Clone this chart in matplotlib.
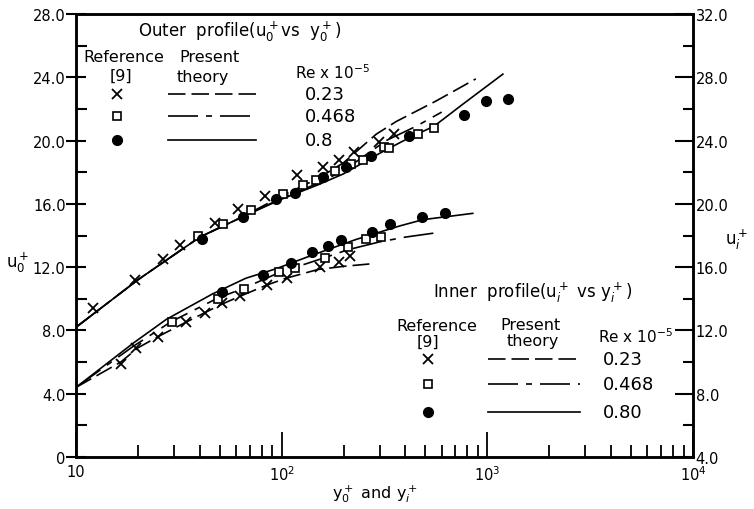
import numpy as np
import matplotlib
matplotlib.use("Agg")
import matplotlib.pyplot as plt
from matplotlib.lines import Line2D
from matplotlib.ticker import FixedLocator, NullFormatter

# ---------------- data ----------------
# Outer profile (left axis, u0+ vs y0+)
outer_x_cross = [12.05, 19.3, 26.5, 32, 47.3, 61.4, 82.6, 118.6, 158, 190, 224, 299, 351]
outer_u_cross = [9.4, 11.2, 12.5, 13.4, 14.8, 15.7, 16.5, 17.8, 18.3, 18.8, 19.3, 19.9, 20.4]
outer_x_square = [39.3, 51.9, 71.3, 101, 127, 147, 181, 218, 248, 316, 334, 459, 550]
outer_u_square = [13.95, 14.7, 15.6, 16.6, 17.2, 17.5, 18.05, 18.5, 18.8, 19.6, 19.5, 20.4, 20.8]
outer_x_dot = [41.2, 64.9, 94.2, 115.6, 158, 205, 272, 415, 767, 986, 1260]
outer_u_dot = [13.8, 15.2, 16.3, 16.7, 17.7, 18.3, 19.0, 20.3, 21.6, 22.5, 22.6]

outer_x_th023 = [10, 20, 40, 65, 100, 150, 200, 288, 360, 563, 879]
outer_u_th023 = [8.2, 11.2, 13.9, 15.2, 16.5, 17.6, 18.6, 20.4, 21.2, 22.5, 23.9]
outer_x_th0468 = [10, 20, 40, 65, 100, 150, 200, 322, 450, 600]
outer_u_th0468 = [8.2, 11.2, 13.9, 15.2, 16.35, 17.3, 18.1, 20.0, 20.9, 21.8]
outer_x_th08 = [10, 20, 40, 65, 100, 150, 200, 300, 420, 550, 760, 1190]
outer_u_th08 = [8.2, 11.2, 13.9, 15.2, 16.3, 17.2, 17.9, 19.2, 20.2, 20.9, 22.3, 24.2]

# Inner profile (right axis, ui+ vs yi+)
inner_x_cross = [16.5, 19.6, 25, 34.3, 42.3, 51, 62.5, 84.4, 105.6, 154, 191, 215]
inner_u_cross = [9.9, 10.9, 11.6, 12.55, 13.1, 13.75, 14.15, 14.85, 15.3, 16.0, 16.3, 16.7]
inner_x_square = [29.3, 49, 65.5, 97.5, 116, 162, 210, 258, 305]
inner_u_square = [12.55, 14.0, 14.6, 15.7, 15.96, 16.6, 17.25, 17.75, 17.9]
inner_x_dot = [51, 81, 111, 141, 168, 195, 275, 337, 482, 625]
inner_u_dot = [14.4, 15.5, 16.25, 16.95, 17.35, 17.7, 18.25, 18.7, 19.2, 19.4]

inner_x_th023 = [10, 16.5, 20, 25, 34, 51, 62.5, 84, 105, 150, 200, 267]
inner_u_th023 = [8.4, 10.0, 10.9, 11.6, 12.5, 13.65, 14.15, 14.85, 15.3, 15.85, 16.05, 16.2]
inner_x_th0468 = [10, 19, 29, 49, 65, 97, 116, 162, 210, 300, 400, 585]
inner_u_th0468 = [8.4, 11.0, 12.55, 14.05, 14.65, 15.65, 15.98, 16.6, 17.1, 17.6, 17.9, 18.2]
inner_x_th08 = [10, 19, 27.5, 46, 67, 94, 137, 230, 374, 486, 850]
inner_u_th08 = [8.4, 11.2, 12.7, 14.3, 15.3, 15.9, 16.7, 17.75, 18.6, 19.0, 19.4]

left_ticks = [0, 4, 8, 12, 16, 20, 24, 28]
left_labels = ["0", "4.0", "8.0", "12.0", "16.0", "20.0", "24.0", "28.0"]
right_ticks = [4, 8, 12, 16, 20, 24, 28, 32]
right_labels = ["4.0", "8.0", "12.0", "16.0", "20.0", "24.0", "28.0", "32.0"]
x_ticks = [10, 100, 1000, 10000]
x_labels = ["10", "10$^2$", "10$^3$", "10$^4$"]
re_labels_outer = ["0.23", "0.468", "0.8"]
re_labels_inner = ["0.23", "0.468", "0.80"]

# ---------------- style ----------------
plt.rcParams["font.family"] = ["DejaVu Sans"]
plt.rcParams["mathtext.fontset"] = "dejavusans"
FS = 10.5
LW = 1.2
DASHED = (0, (10.5, 3.6))
DASHDOT = (0, (18, 4.8, 3.6, 4.8))
SOLID = "-"
styles = [DASHED, DASHDOT, SOLID]

fig = plt.figure(figsize=(7.54, 5.10), dpi=100)
ax = fig.add_axes([76 / 754, 1 - 458 / 510, 617 / 754, 443 / 510])
ax2 = ax.twinx()

for a in (ax, ax2):
    a.set_xscale("log")
    a.set_xlim(10, 10000)
ax.set_ylim(0, 28)
ax2.set_ylim(4, 32)

mk_cross = dict(marker="x", ls="none", color="black", ms=7, mew=1.3)
mk_sq = dict(marker="s", ls="none", mfc="white", mec="black", ms=6, mew=1.2)
mk_dot = dict(marker="o", ls="none", color="black", ms=7)

# outer
ax.plot(outer_x_th023, outer_u_th023, color="black", lw=LW, ls=DASHED)
ax.plot(outer_x_th0468, outer_u_th0468, color="black", lw=LW, ls=DASHDOT)
ax.plot(outer_x_th08, outer_u_th08, color="black", lw=LW, ls=SOLID)
ax.plot(outer_x_cross, outer_u_cross, **mk_cross)
ax.plot(outer_x_square, outer_u_square, **mk_sq)
ax.plot(outer_x_dot, outer_u_dot, **mk_dot)

# inner
ax2.plot(inner_x_th023, inner_u_th023, color="black", lw=LW, ls=DASHED)
ax2.plot(inner_x_th0468, inner_u_th0468, color="black", lw=LW, ls=DASHDOT)
ax2.plot(inner_x_th08, inner_u_th08, color="black", lw=LW, ls=SOLID)
ax2.plot(inner_x_cross, inner_u_cross, **mk_cross)
ax2.plot(inner_x_square, inner_u_square, **mk_sq)
ax2.plot(inner_x_dot, inner_u_dot, **mk_dot)

# spines
for a in (ax, ax2):
    for s in a.spines.values():
        s.set_linewidth(1.8)

# left ticks
ax.yaxis.set_major_locator(FixedLocator(left_ticks))
ax.set_yticklabels(left_labels)
ax.yaxis.set_minor_locator(FixedLocator([2, 6, 10, 14, 18, 22, 26]))
ax.tick_params(axis="y", which="major", direction="inout", length=14, width=1.5,
               labelsize=FS, pad=0.5, right=False)
ax.tick_params(axis="y", which="minor", direction="in", length=8, width=1.5, right=False)

# right ticks
ax2.yaxis.set_major_locator(FixedLocator(right_ticks))
ax2.set_yticklabels(right_labels)
ax2.yaxis.set_minor_locator(FixedLocator([6, 10, 14, 18, 22, 26, 30]))
ax2.tick_params(axis="y", which="major", direction="in", length=13, width=1.5,
                labelsize=FS, pad=2, left=False)
ax2.tick_params(axis="y", which="minor", direction="in", length=7, width=1.5, left=False)

# x ticks
ax.xaxis.set_major_locator(FixedLocator(x_ticks))
ax.set_xticklabels(x_labels)
minors = [m * 10 ** d for d in (1, 2, 3) for m in range(2, 10)]
ax.xaxis.set_minor_locator(FixedLocator(minors))
ax.xaxis.set_minor_formatter(NullFormatter())
ax.tick_params(axis="x", which="major", direction="in", length=18, width=1.3,
               labelsize=FS, pad=5, top=False)
ax.tick_params(axis="x", which="minor", direction="in", length=9, width=1.3, top=False)
ax2.tick_params(axis="x", which="both", bottom=False, top=False, labelbottom=False)

# axis labels
fig.text(18 / 754, 1 - 263 / 510, "u$_0^+$", fontsize=12, ha="center", va="center")
fig.text(737 / 754, 1 - 240 / 510, "u$_i^+$", fontsize=12, ha="center", va="center")
fig.text(375 / 754, 1 - 494 / 510, "y$_0^+$ and y$_i^+$", fontsize=11.5, ha="center", va="center")

T = ax.transAxes

def legend_block(title_xy, ref_xy, nine_xy, pres_xy, theo_xy, re_xy, rows_y,
                 mk_x, line_x0, line_x1, val_x, title, values):
    ax.text(*title_xy, title, transform=T, fontsize=12, ha="left", va="center")
    ax.text(*ref_xy, "Reference", transform=T, fontsize=11.5, ha="center", va="center")
    ax.text(*nine_xy, "[9]", transform=T, fontsize=11.5, ha="center", va="center")
    ax.text(*pres_xy, "Present", transform=T, fontsize=11.5, ha="center", va="center")
    ax.text(*theo_xy, "theory", transform=T, fontsize=11.5, ha="center", va="center")
    ax.text(*re_xy, "Re x 10$^{-5}$", transform=T, fontsize=11, ha="left", va="center")
    mks = [mk_cross, mk_sq, mk_dot]
    for yy, mk, st, val in zip(rows_y, mks, styles, values):
        ax.add_line(Line2D([mk_x], [yy], transform=T, **mk))
        ax.add_line(Line2D([line_x0, line_x1], [yy, yy], transform=T, color="black",
                           lw=LW, ls=st))
        ax.text(val_x, yy, val, transform=T, fontsize=13, ha="left", va="center")

legend_block((0.100, 0.962), (0.078, 0.903), (0.073, 0.862), (0.217, 0.905),
             (0.206, 0.860), (0.355, 0.869), [0.819, 0.770, 0.716],
             0.066, 0.149, 0.292, 0.371,
             "Outer  profile(u$_0^+$vs  y$_0^+$)", re_labels_outer)
legend_block((0.579, 0.372), (0.585, 0.296), (0.570, 0.262), (0.736, 0.300),
             (0.741, 0.262), (0.846, 0.273), [0.221, 0.165, 0.102],
             0.570, 0.668, 0.817, 0.854,
             "Inner  profile(u$_i^+$ vs y$_i^+$)", re_labels_inner)

fig.savefig("out.png", dpi=100)
